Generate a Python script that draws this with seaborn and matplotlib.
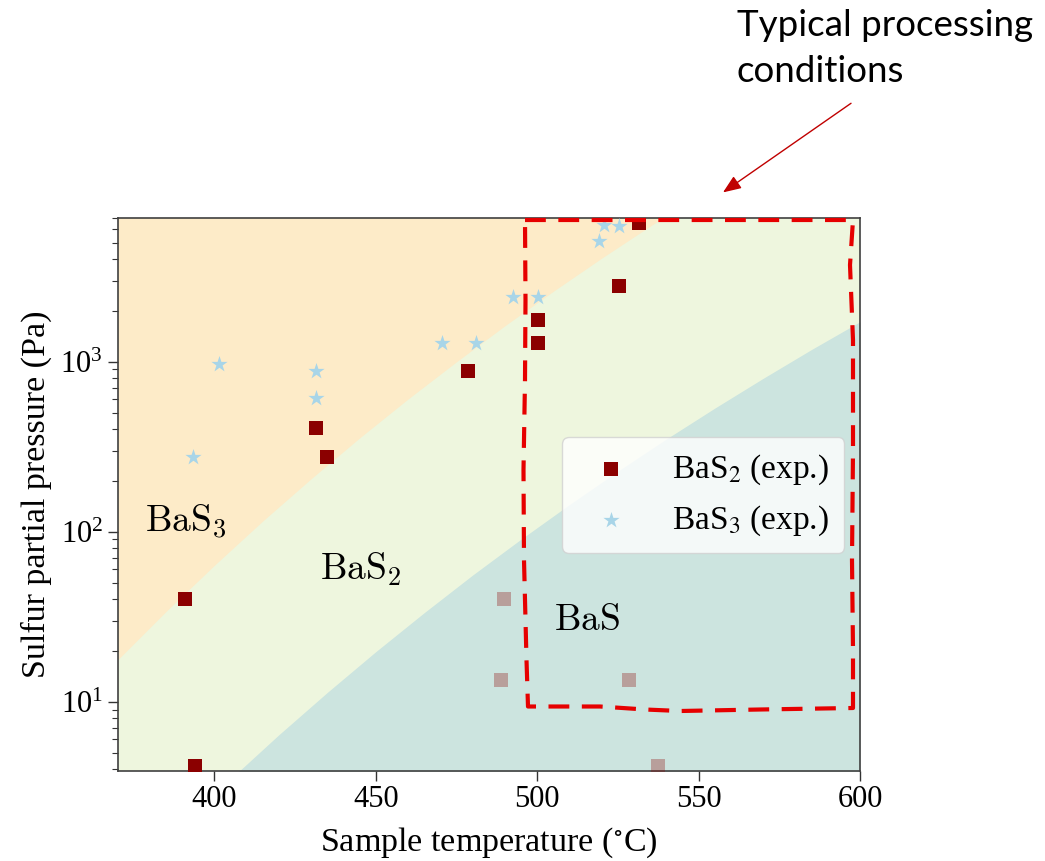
import numpy as np
import pandas as pd
import matplotlib
matplotlib.use("Agg")
import matplotlib.pyplot as plt
import seaborn as sns
from matplotlib.lines import Line2D
from matplotlib.patches import FancyArrowPatch

# ---------------- data ----------------
bas2_T = [391.0, 394.0, 431.5, 435.0, 478.5, 500.4, 500.4, 525.4, 531.5]
bas2_P = [40, 4.2, 410, 274, 885, 1280, 1770, 2800, 6500]

bas3_T = [393.4, 401.3, 431.5, 431.5, 470.5, 481.2, 492.4, 500.4, 519.3, 520.8, 525.4]
bas3_P = [276, 965, 615, 885, 1280, 1280, 2400, 2400, 5150, 6370, 6300]

bas_T = [489.7, 488.7, 528.5, 537.5]
bas_P = [40, 13.5, 13.5, 4.2]

# phase boundaries read along the colour edges (BaS3 / BaS2 and BaS2 / BaS)
b1_T = [370, 385, 400, 415, 430, 445, 460, 475, 490, 505, 520, 535, 545]
b1_P = [17.6, 33.9, 63.4, 115.6, 205, 356, 603, 998, 1626, 2594, 4064, 6266, 8300]
b2_T = [406, 408, 420, 435, 450, 465, 480, 495, 510, 525, 540, 555, 570, 585, 600]
b2_P = [3.7, 3.96, 6.40, 11.35, 19.7, 33.4, 55.6, 90.4, 144.5, 227, 351, 533, 798, 1180, 1718]

x_ticks = [400, 450, 500, 550, 600]
legend_labels = ["BaS$_2$ (exp.)", "BaS$_3$ (exp.)"]
region_labels = [r"$\mathrm{BaS}_3$", r"$\mathrm{BaS}_2$", r"$\mathrm{BaS}$"]
region_T = [391.3, 445.4, 515.5]
region_P = [100, 52, 26.4]

# ---------------- style ----------------
sns.set_style("ticks")
plt.rcParams["font.family"] = ["Liberation Serif", "DejaVu Serif"]
plt.rcParams["mathtext.fontset"] = "stix"
plt.rcParams["text.color"] = "black"
plt.rcParams["axes.labelcolor"] = "black"

orange = "#fdebc8"
green = "#eef6de"
teal = "#cce4df"

W, H = 1045, 861
fig = plt.figure(figsize=(W / 100, H / 100), dpi=100)
ax = fig.add_axes([117.5 / W, 1 - 770.7 / H, (860 - 117.5) / W, (770.7 - 218) / H])
ax.set_yscale("log")
ax.set_xlim(370, 600)
ax.set_ylim(3.93, 7000)

ax.set_facecolor(green)
ax.fill_between(b1_T, b1_P, 1e5, color=orange, linewidth=0, zorder=0)
ax.fill_between(b2_T, 0.1, b2_P, color=teal, linewidth=0, zorder=0)

sns.scatterplot(x=bas_T, y=bas_P, marker="s", color="#8b0000", alpha=0.3, s=95,
                linewidth=0, ax=ax, legend=False, zorder=3)
sns.scatterplot(x=bas2_T, y=bas2_P, marker="s", color="#8b0000", s=95,
                linewidth=0, ax=ax, label=legend_labels[0], zorder=3)
sns.scatterplot(x=bas3_T, y=bas3_P, marker="*", color="#a8d5e8", s=150,
                linewidth=0, ax=ax, label=legend_labels[1], zorder=3)

for lab, t, p in zip(region_labels, region_T, region_P):
    ax.text(t, p, lab, ha="center", va="baseline", fontsize=27, math_fontfamily="cm",
            color="black", zorder=4)

ax.set_xticks(x_ticks)
ax.tick_params(which="major", length=7, width=1, direction="out", labelsize=22,
               colors="0.2", labelcolor="black")
ax.tick_params(which="minor", length=4, width=0.8, direction="out", colors="0.2")
for sp in ax.spines.values():
    sp.set_color("0.25")
    sp.set_linewidth(1.2)

ax.set_xlabel("Sample temperature ($^{\\circ}$C)", fontsize=24.5, labelpad=8)
ax.set_ylabel("Sulfur partial pressure (Pa)", fontsize=24.5, labelpad=6)

ax.legend(loc="center", bbox_to_anchor=(0.789, 0.499), fontsize=24, handletextpad=0.85,
          handlelength=2.0, labelspacing=0.5, borderpad=0.45, framealpha=0.8,
          edgecolor="0.82", fancybox=True)

# ---------------- annotation overlay ----------------
box_px = [(525, 220), (853, 220), (850, 265), (853, 340), (853, 450), (852, 560),
          (853, 650), (853, 708), (760, 709.5), (680, 711), (645, 709.5), (600, 706.5),
          (528, 706.5), (526.5, 660), (524, 560), (523.5, 470), (525, 380), (525.5, 300),
          (525, 220)]
bx = [p[0] / W for p in box_px]
by = [1 - p[1] / H for p in box_px]
fig.add_artist(Line2D(bx, by, transform=fig.transFigure, color="#e60000", lw=3,
                      linestyle=(0, (5, 3)), dash_capstyle="butt", zorder=10))

arrow = FancyArrowPatch((853.3 / W, 1 - 101.7 / H), (720.7 / W, 1 - 194 / H),
                        transform=fig.transFigure, arrowstyle="-|>,head_length=0.55,head_width=0.22",
                        mutation_scale=20, color="#c00000", lw=1, zorder=10)
fig.add_artist(arrow)

fig.text(737 / W, 1 - 36 / H, "Typical processing", fontfamily="Lato", fontsize=26.5,
         va="baseline", color="black")
fig.text(737 / W, 1 - 82 / H, "conditions", fontfamily="Lato", fontsize=26.5,
         va="baseline", color="black")

fig.savefig("out.png", dpi=100)
